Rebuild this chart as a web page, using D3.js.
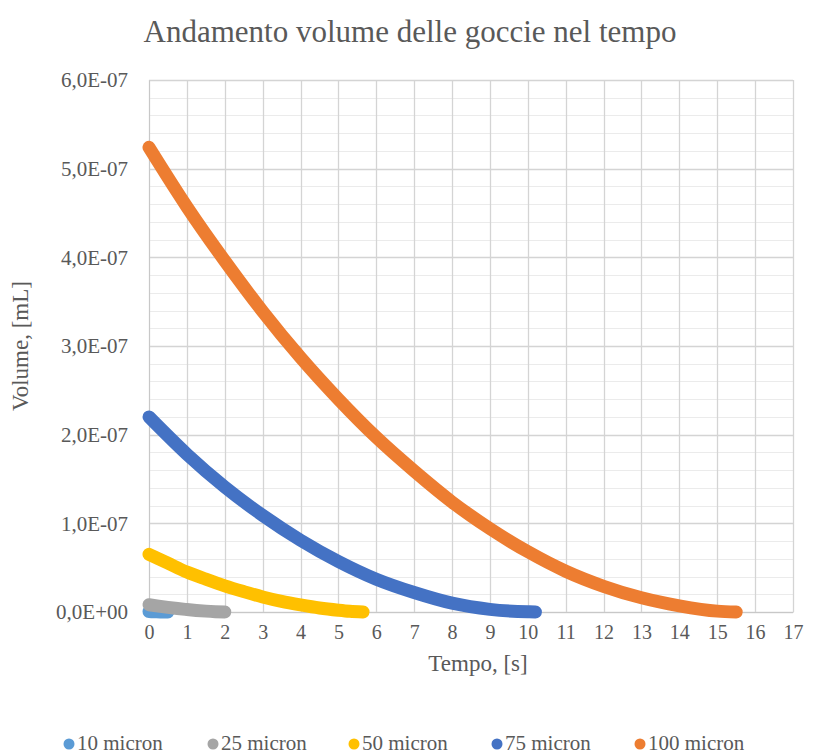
<!DOCTYPE html>
<html><head><meta charset="utf-8">
<script src="https://cdn.jsdelivr.net/npm/d3@7"></script>
</head><body style="margin:0">
<svg id="chart" width="816" height="756"></svg>
<script>
const title = "Andamento volume delle goccie nel tempo";
const xTitle = "Tempo, [s]";
const yTitle = "Volume, [mL]";
const seriesNames = ["10 micron", "25 micron", "50 micron", "75 micron", "100 micron"];
const seriesColors = ["#5B9BD5", "#A5A5A5", "#FFC000", "#4472C4", "#ED7D31"];
const xTicks = d3.range(0, 18);
const yTicks = [0, 1e-7, 2e-7, 3e-7, 4e-7, 5e-7, 6e-7];
const yTickLabels = ["0,0E+00", "1,0E-07", "2,0E-07", "3,0E-07", "4,0E-07", "5,0E-07", "6,0E-07"];

// time [s]
const t10 = [0, 0.1, 0.2, 0.3, 0.4, 0.5];
const v10 = [5.2e-10, 3.4e-10, 2.0e-10, 1.0e-10, 0.3e-10, 0];
const t25 = [0, 0.25, 0.5, 0.75, 1.0, 1.25, 1.5, 1.75, 2.0];
const v25 = [8.2e-9, 6.6e-9, 5.2e-9, 3.9e-9, 2.8e-9, 1.8e-9, 1.0e-9, 0.4e-9, 0];
const t50 = [0, 0.5, 1, 1.5, 2, 2.5, 3, 3.5, 4, 4.5, 5, 5.3, 5.65];
const v50 = [6.5e-8, 5.5e-8, 4.5e-8, 3.7e-8, 2.95e-8, 2.3e-8, 1.7e-8, 1.2e-8, 0.8e-8, 0.45e-8, 0.2e-8, 0.08e-8, 0];
const t75 = [0, 1, 2, 3, 4, 5, 6, 7, 8, 9, 10, 10.2];
const v75 = [2.20e-7, 1.78e-7, 1.41e-7, 1.09e-7, 0.81e-7, 0.57e-7, 0.37e-7, 0.22e-7, 0.10e-7, 0.03e-7, 0.002e-7, 0];
const t100 = [0, 1, 2, 3, 4, 5, 6, 7, 8, 9, 10, 11, 12, 13, 14, 15, 15.5];
const v100 = [5.24e-7, 4.57e-7, 3.96e-7, 3.39e-7, 2.87e-7, 2.40e-7, 1.97e-7, 1.59e-7, 1.24e-7, 0.94e-7, 0.68e-7, 0.46e-7, 0.29e-7, 0.16e-7, 0.07e-7, 0.01e-7, 0];

const times = [t10, t25, t50, t75, t100];
const volumes = [v10, v25, v50, v75, v100];

const svg = d3.select("#chart");
const pLeft = 149, pRight = 793, pTop = 80, pBottom = 612;
const x = d3.scaleLinear().domain([0, 17]).range([pLeft, pRight]);
const y = d3.scaleLinear().domain([0, 6e-7]).range([pBottom, pTop]);
const textCol = "#595959";

function styleText(sel, size) {
  sel.style("font-family", '"Liberation Serif"').style("font-size", size + "px").attr("fill", textCol);
}

// minor horizontal grid
svg.append("g").selectAll("line").data(d3.range(0, 6e-7 + 1e-12, 2e-8)).join("line")
  .attr("x1", pLeft).attr("x2", pRight)
  .attr("y1", d => Math.round(y(d)) + 0.5).attr("y2", d => Math.round(y(d)) + 0.5)
  .attr("stroke", "#ebebeb").attr("stroke-width", 1);
// major horizontal grid
svg.append("g").selectAll("line").data(yTicks).join("line")
  .attr("x1", pLeft).attr("x2", pRight)
  .attr("y1", d => Math.round(y(d)) + 0.5).attr("y2", d => Math.round(y(d)) + 0.5)
  .attr("stroke", "#d4d4d4").attr("stroke-width", 1.3);
// vertical grid
svg.append("g").selectAll("line").data(xTicks).join("line")
  .attr("x1", d => Math.round(x(d)) + 0.5).attr("x2", d => Math.round(x(d)) + 0.5)
  .attr("y1", pTop).attr("y2", pBottom)
  .attr("stroke", "#d4d4d4").attr("stroke-width", 1.3);

// axes
const xAxis = d3.axisBottom(x).tickValues(xTicks).tickSize(0).tickPadding(13).tickFormat(d3.format("d"));
const gx = svg.append("g").attr("transform", `translate(0,${pBottom})`).call(xAxis);
gx.attr("font-family", null).attr("font-size", null);
gx.select(".domain").attr("stroke", "#c8c8c8");
styleText(gx.selectAll("text"), 20);

const yAxis = d3.axisLeft(y).tickValues(yTicks).tickSize(0).tickPadding(21)
  .tickFormat((d, i) => yTickLabels[i]);
const gy = svg.append("g").attr("transform", `translate(${pLeft},0)`).call(yAxis);
gy.attr("font-family", null).attr("font-size", null);
gy.select(".domain").attr("stroke", "#c8c8c8");
styleText(gy.selectAll("text"), 21);

// series
const line = d3.line().x(d => x(d[0])).y(d => y(d[1])).curve(d3.curveMonotoneX);
seriesNames.forEach((name, i) => {
  const pts = times[i].map((t, j) => [t, volumes[i][j]]);
  svg.append("path").datum(pts)
    .attr("d", line)
    .attr("fill", "none")
    .attr("stroke", seriesColors[i])
    .attr("stroke-width", 13)
    .attr("stroke-linecap", "round")
    .attr("stroke-linejoin", "round");
});

// title
styleText(svg.append("text").attr("x", 410).attr("y", 42).attr("text-anchor", "middle").text(title), 31);
// axis titles
styleText(svg.append("text").attr("x", 478).attr("y", 671).attr("text-anchor", "middle").text(xTitle), 23);
styleText(svg.append("text").attr("transform", "translate(28,346) rotate(-90)").attr("text-anchor", "middle").text(yTitle), 23);

// legend
const legX = [69, 213, 354, 497, 640];
const leg = svg.append("g");
seriesNames.forEach((name, i) => {
  leg.append("circle").attr("cx", legX[i]).attr("cy", 744).attr("r", 5.5).attr("fill", seriesColors[i]);
  styleText(leg.append("text").attr("x", legX[i] + 8).attr("y", 750).text(name), 21);
});
</script>
</body></html>
